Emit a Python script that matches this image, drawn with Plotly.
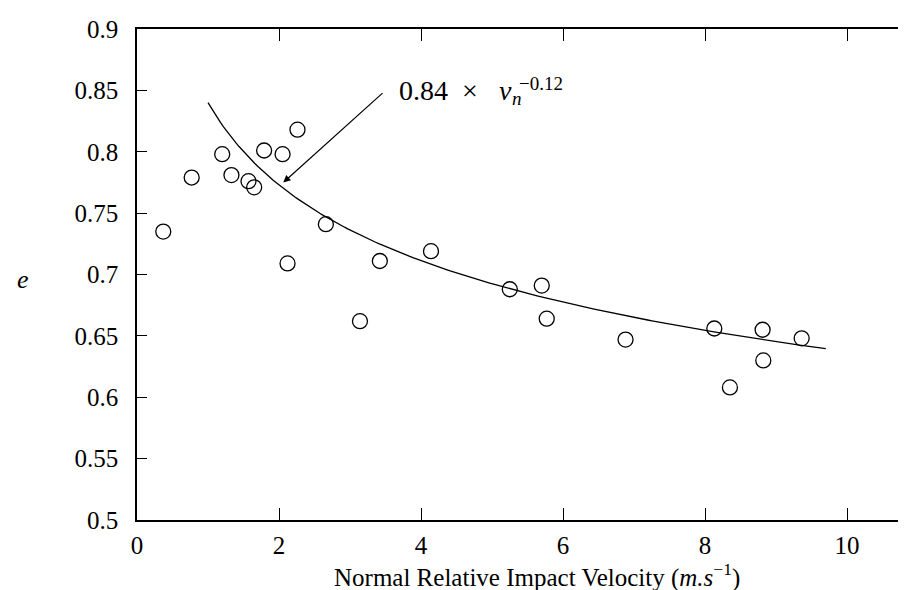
import numpy as np
import plotly.graph_objects as go

# Measured data points (normal relative impact velocity, coefficient of restitution)
velocity = [0.37, 0.77, 1.20, 1.33, 1.57, 1.65, 1.79, 2.05, 2.26, 2.12, 2.66, 3.42, 3.14,
            4.14, 5.25, 5.70, 5.77, 6.88, 8.13, 8.35, 8.81, 8.82, 9.36]
restitution = [0.735, 0.779, 0.798, 0.781, 0.776, 0.771, 0.801, 0.798, 0.818, 0.709, 0.741, 0.711, 0.662,
               0.719, 0.688, 0.691, 0.664, 0.647, 0.656, 0.608, 0.655, 0.630, 0.648]

# Fitted curve e = a * v^b over the drawn span
fit_a = 0.84
fit_b = -0.12
fit_start, fit_end = 1.0, 9.7

x_ticks = [0, 2, 4, 6, 8, 10]
y_ticks = [0.5, 0.55, 0.6, 0.65, 0.7, 0.75, 0.8, 0.85, 0.9]
y_tick_text = ["0.5", "0.55", "0.6", "0.65", "0.7", "0.75", "0.8", "0.85", "0.9"]

vfit = np.linspace(fit_start, fit_end, 200)
efit = fit_a * vfit ** fit_b

SERIF = "Liberation Serif"

fig = go.Figure()
fig.add_trace(go.Scatter(x=vfit, y=efit, mode="lines",
                         line=dict(color="black", width=1.3), showlegend=False, hoverinfo="skip"))
fig.add_trace(go.Scatter(x=velocity, y=restitution, mode="markers",
                         marker=dict(symbol="circle-open", size=15, color="black",
                                     line=dict(width=1.3, color="black")),
                         showlegend=False))

axis_common = dict(showgrid=False, zeroline=False, showline=True, linecolor="black", linewidth=1.5,
                   mirror="allticks", ticks="inside", tickcolor="black", tickwidth=1.2,
                   tickfont=dict(family=SERIF, size=25, color="black"))

fig.update_xaxes(range=[0, 10.9], tickvals=x_ticks, ticklen=12, ticklabelstandoff=2, **axis_common)
fig.update_yaxes(range=[0.5, 0.9], tickvals=y_ticks, ticktext=y_tick_text, ticklen=10,
                 ticklabelstandoff=12, **axis_common)

# Arrow pointing to the fit curve
fig.add_annotation(x=2.06, y=0.775, ax=3.5, ay=0.850, xref="x", yref="y", axref="x", ayref="y",
                   showarrow=True, arrowhead=2, arrowsize=1.2, arrowwidth=1.2, arrowcolor="black", text=" ")

# Fit label, pieced together so the sub/superscript stack like the original
lab_font = dict(family=SERIF, size=28, color="black")
small_font = dict(family=SERIF, size=19, color="black")
fig.add_annotation(x=3.666, y=0.8497, xref="x", yref="y", xanchor="left", yanchor="middle",
                   text="0.84  ×", showarrow=False, font=lab_font)
fig.add_annotation(x=5.07, y=0.8497, xref="x", yref="y", xanchor="left", yanchor="middle",
                   text="<i>v</i>", showarrow=False, font=lab_font)
fig.add_annotation(x=5.25, y=0.843, xref="x", yref="y", xanchor="left", yanchor="middle",
                   text="<i>n</i>", showarrow=False, font=small_font)
fig.add_annotation(x=5.35, y=0.8556, xref="x", yref="y", xanchor="left", yanchor="middle",
                   text="−0.12", showarrow=False, font=small_font)

# Axis titles
fig.add_annotation(x=0.517, y=-0.1505, xref="paper", yref="paper", xanchor="center", yanchor="bottom",
                   text="Normal Relative Impact Velocity (<i>m.s</i><sup>−1</sup>)", showarrow=False,
                   font=dict(family=SERIF, size=25, color="black"))
fig.add_annotation(x=-0.147, y=0.489, xref="paper", yref="paper", xanchor="center", yanchor="middle",
                   text="<i>e</i>", showarrow=False,
                   font=dict(family=SERIF, size=26, color="black"))

fig.update_layout(width=906, height=590, margin=dict(l=129, r=1, t=21, b=78),
                  plot_bgcolor="white", paper_bgcolor="white")

fig.write_html("out.html")
